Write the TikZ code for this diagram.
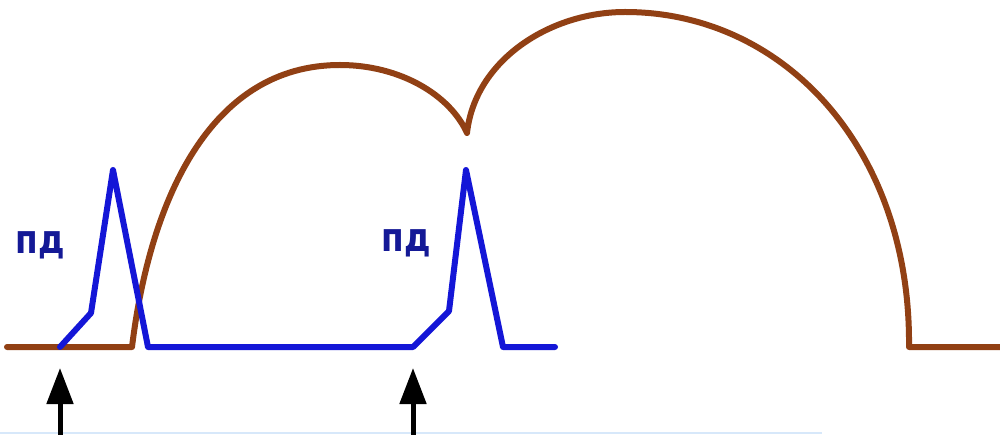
\documentclass[tikz,border=0pt]{standalone}
\usepackage{fontspec}
\setmainfont{Liberation Sans}
\newfontfamily\labelfont{DejaVu Sans}
\usetikzlibrary{arrows.meta}
\definecolor{brownc}{RGB}{145,64,20}
\definecolor{bluec}{RGB}{20,22,215}
\definecolor{labelc}{RGB}{20,25,150}
\definecolor{faintc}{RGB}{215,232,250}
\tikzset{
  brownline/.style={draw=brownc,line width=6pt,line join=round,line cap=round},
  blueline/.style={draw=bluec,line width=6pt,line join=round,line cap=round},
  stimarrow/.style={draw=black,line width=5pt,-{Triangle[length=36pt,width=26pt]}},
  pdlabel/.style={text=labelc,font=\labelfont\fontsize{40}{40}\selectfont\bfseries,inner sep=0pt,xscale=0.82}
}
\begin{document}
\begin{tikzpicture}[x=1pt,y=-1pt]
\useasboundingbox (0,0) rectangle (1000,435);
\fill[white] (0,0) rectangle (1000,435);
% faint bottom line
\coordinate (fl) at (0,433);
\coordinate (fr) at (822,433);
\draw[faintc,line width=2pt] (fl) -- (fr);
% brown curve
\coordinate (b0) at (7,347);
\coordinate (b1) at (132,347);
\coordinate (b2) at (340,65);
\coordinate (b3) at (467,133);
\coordinate (b4) at (625,12);
\coordinate (b5) at (909,347);
\coordinate (b6) at (1000,347);
\draw[brownline] (b0) -- (b1)
  .. controls (150,200) and (210,65) .. (b2)
  .. controls (400,65) and (450,95) .. (b3)
  .. controls (475,60) and (550,12) .. (b4)
  .. controls (785,12) and (911,150) .. (b5)
  -- (b6);
% blue action potentials
\coordinate (p0) at (60,347);
\coordinate (p1) at (91,313);
\coordinate (p2) at (113,170);
\coordinate (p3) at (148,347);
\coordinate (q0) at (413,347);
\coordinate (q1) at (449,311);
\coordinate (q2) at (466,170);
\coordinate (q3) at (503,347);
\coordinate (q4) at (555,347);
\draw[blueline] (p0) -- (p1) -- (p2) -- (p3) -- (q0) -- (q1) -- (q2) -- (q3) -- (q4);
% labels
\node[pdlabel] (l1) at (40,245) {пд};
\node[pdlabel] (l2) at (406,243) {пд};
% stimulus arrows
\coordinate (a1s) at (60,437);
\coordinate (a1e) at (60,368);
\coordinate (a2s) at (413,437);
\coordinate (a2e) at (413,368);
\draw[stimarrow] (a1s) -- (a1e);
\draw[stimarrow] (a2s) -- (a2e);
\end{tikzpicture}
\end{document}
